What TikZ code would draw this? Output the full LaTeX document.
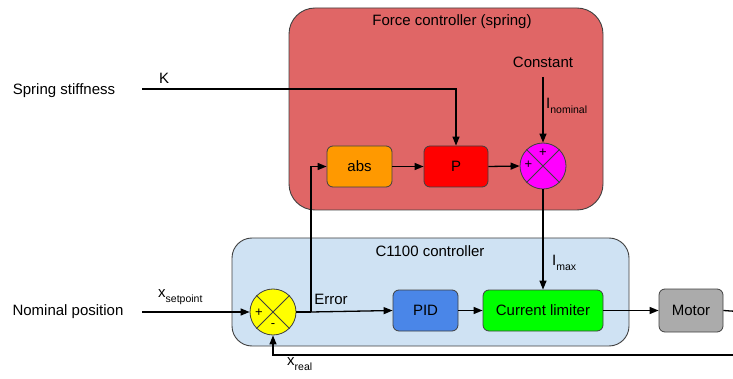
\documentclass[tikz,border=0pt]{standalone}
\usepackage{fontspec}
\setmainfont{Liberation Sans}
\usetikzlibrary{arrows.meta}
\definecolor{forcered}{HTML}{E06666}
\definecolor{ctrlblue}{HTML}{CFE2F3}
\definecolor{absorange}{HTML}{FF9900}
\definecolor{pred}{HTML}{FF0000}
\definecolor{summag}{HTML}{FF00FF}
\definecolor{sumyel}{HTML}{FFFF00}
\definecolor{pidblue}{HTML}{4A86E8}
\definecolor{limgreen}{HTML}{00FF00}
\definecolor{motgrey}{HTML}{ABABAB}
\definecolor{edge}{HTML}{404040}
\newcommand{\lowsub}[1]{\raisebox{-0.55ex}{\fontsize{10.5}{12}\selectfont #1}}
\begin{document}
\begin{tikzpicture}[x=1pt,y=-1pt,
  font=\fontsize{15}{18}\selectfont,
  group/.style={draw=edge, line width=0.9pt, inner sep=0},
  blk/.style={draw=edge, rounded corners=6pt, line width=0.8pt, minimum height=41pt, inner sep=0},
  sumc/.style={circle, draw=edge, line width=0.8pt, minimum size=46pt, inner sep=0},
  cross/.style={draw=edge, line width=0.8pt},
  arr/.style={-{Triangle[length=9pt,width=7pt]}, line width=1.3pt},
  ln/.style={line width=1.3pt},
  lbl/.style={inner sep=0},
  sign/.style={inner sep=0, font=\fontsize{13}{15}\selectfont}]
\useasboundingbox (0,0) rectangle (733,379);

% group boxes
\node[group, fill=forcered, rounded corners=26pt, minimum width=314pt, minimum height=202pt] (force) at (446,109) {};
\node[lbl] (forcetitle) at (452,22) {Force controller (spring)};
\node[group, fill=ctrlblue, rounded corners=20pt, minimum width=397pt, minimum height=108pt] (ctrl) at (430.5,292) {};
\node[lbl] (ctrltitle) at (430,251) {C1100 controller};

% blocks
\node[blk, fill=absorange, minimum width=65pt] (abs) at (359.5,166.5) {abs};
\node[blk, fill=pred, minimum width=64pt] (P) at (456,166.5) {P};
\node[sumc, fill=summag] (mc) at (543,166) {};
\node[blk, fill=pidblue, minimum width=65pt] (PID) at (425.5,310.5) {PID};
\node[blk, fill=limgreen, minimum width=120pt] (CL) at (543,310.5) {Current limiter};
\node[blk, fill=motgrey, minimum width=64pt, minimum height=43pt] (motor) at (691,310.5) {Motor};
\node[sumc, fill=sumyel] (yc) at (273,312) {};

% crosses in summing circles
\draw[cross] (mc.north east) -- (mc.south west) (mc.north west) -- (mc.south east);
\draw[cross] (yc.north east) -- (yc.south west) (yc.north west) -- (yc.south east);
\node[sign] (mcp1) at (543,153) {+};
\node[sign] (mcp2) at (528.5,165) {+};
\node[sign] (ycp) at (259,313) {+};
\node[sign] (ycm) at (273,326) {-};

% text labels
\node[lbl] (spring) at (64,91) {Spring stiffness};
\node[lbl] (K) at (164,78) {K};
\node[lbl] (const) at (543,62) {Constant};
\node[lbl, anchor=west] (inom) at (546,106) {I\lowsub{nominal}};
\node[lbl] (nompos) at (68,312) {Nominal position};
\node[lbl, anchor=west] (xset) at (158,297) {x\lowsub{setpoint}};
\node[lbl] (err) at (331,299) {Error};
\node[lbl, anchor=west] (imax) at (552,263) {I\lowsub{max}};
\node[lbl, anchor=west] (xreal) at (287,364) {x\lowsub{real}};

% coordinates
\coordinate (kstart) at (142,89);
\coordinate (nomstart) at (142,312);
\coordinate (cstart) at (543,77);
\coordinate (j) at (311,312);
\coordinate (fbr) at (745,312);
\coordinate (fbb) at (745,355);

% connectors
\draw[arr] (kstart) -| (P.north);
\draw[arr] (cstart) -- (mc.north);
\draw[arr] (abs.east) -- (P.west);
\draw[arr] (P.east) -- (mc.west);
\draw[arr] (mc.south) -- (CL.north);
\draw[arr] (nomstart) -- (yc.west);
\draw[ln] (yc.east) -- (j);
\draw[arr] (j) -- (PID.west);
\draw[arr] (j) |- (abs.west);
\draw[arr] (PID.east) -- (CL.west);
\draw[arr] (CL.east) -- (motor.west);
\draw[ln] (motor.east) -- (fbr) -- (fbb);
\draw[arr] (fbb) -| (yc.south);
\end{tikzpicture}
\end{document}
